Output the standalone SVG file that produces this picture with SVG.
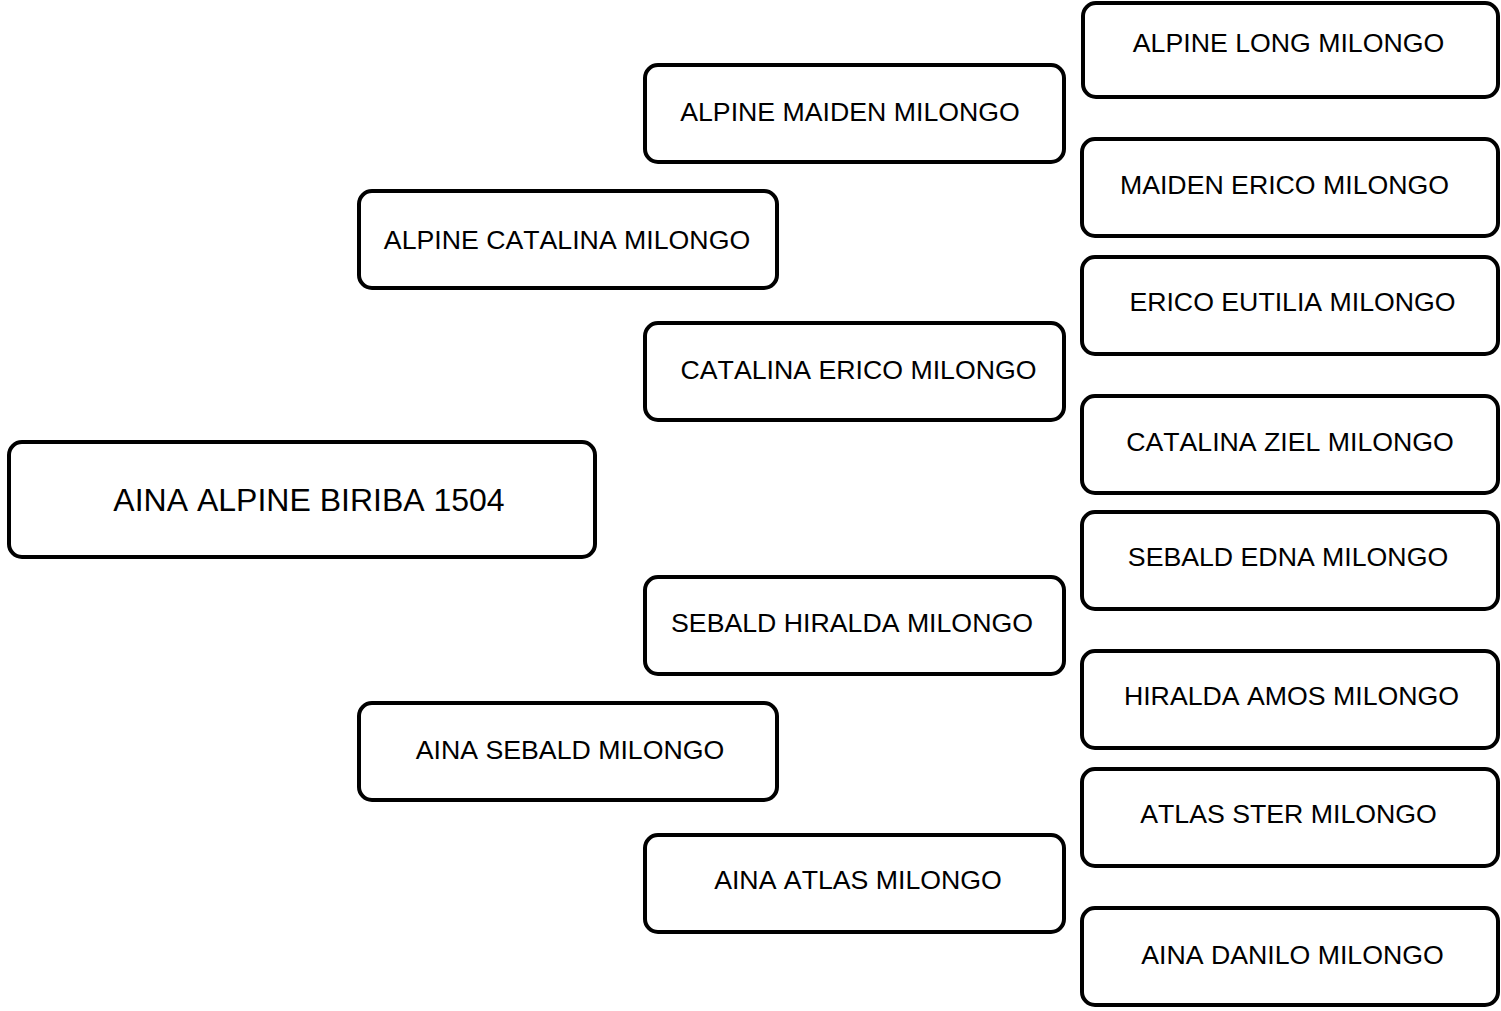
<svg xmlns="http://www.w3.org/2000/svg" width="1501" height="1011" viewBox="0 0 1501 1011">
<style>
.box{fill:#fff;stroke:#000;stroke-width:4}
.t{font-family:"Liberation Sans",Arial,sans-serif;font-size:26.7px;fill:#000;text-anchor:middle;font-kerning:none}
.tr{font-family:"Liberation Sans",Arial,sans-serif;font-size:32px;fill:#000;text-anchor:middle;font-kerning:none}
</style>
<rect width="1501" height="1011" fill="#fff"/>
<g id="connectors"></g>
<g id="n0"><rect class="box" x="9" y="442" width="586" height="115" rx="13"/><text class="tr" x="309" y="510.5">AINA ALPINE BIRIBA 1504</text></g>
<g id="n1"><rect class="box" x="359" y="191" width="418" height="97" rx="13"/><text class="t" x="567" y="248.5">ALPINE CATALINA MILONGO</text></g>
<g id="n2"><rect class="box" x="359" y="703" width="418" height="97" rx="13"/><text class="t" x="570" y="758.5">AINA SEBALD MILONGO</text></g>
<g id="n3"><rect class="box" x="645" y="65" width="419" height="97" rx="13"/><text class="t" x="850" y="120.5">ALPINE MAIDEN MILONGO</text></g>
<g id="n4"><rect class="box" x="645" y="323" width="419" height="97" rx="13"/><text class="t" x="858.5" y="378.5">CATALINA ERICO MILONGO</text></g>
<g id="n5"><rect class="box" x="645" y="577" width="419" height="97" rx="13"/><text class="t" x="852" y="631.5">SEBALD HIRALDA MILONGO</text></g>
<g id="n6"><rect class="box" x="645" y="835" width="419" height="97" rx="13"/><text class="t" x="858" y="888.5">AINA ATLAS MILONGO</text></g>
<g id="n7"><rect class="box" x="1083" y="3" width="415" height="94" rx="13"/><text class="t" x="1288.5" y="51.5">ALPINE LONG MILONGO</text></g>
<g id="n8"><rect class="box" x="1082" y="139" width="416" height="97" rx="13"/><text class="t" x="1284.5" y="193.5">MAIDEN ERICO MILONGO</text></g>
<g id="n9"><rect class="box" x="1082" y="257" width="416" height="97" rx="13"/><text class="t" x="1292.5" y="310.5">ERICO EUTILIA MILONGO</text></g>
<g id="n10"><rect class="box" x="1082" y="396" width="416" height="97" rx="13"/><text class="t" x="1290" y="450.5">CATALINA ZIEL MILONGO</text></g>
<g id="n11"><rect class="box" x="1082" y="512" width="416" height="97" rx="13"/><text class="t" x="1288" y="565.5">SEBALD EDNA MILONGO</text></g>
<g id="n12"><rect class="box" x="1082" y="651" width="416" height="97" rx="13"/><text class="t" x="1291.5" y="704.5">HIRALDA AMOS MILONGO</text></g>
<g id="n13"><rect class="box" x="1082" y="769" width="416" height="97" rx="13"/><text class="t" x="1288.5" y="822.5">ATLAS STER MILONGO</text></g>
<g id="n14"><rect class="box" x="1082" y="908" width="416" height="97" rx="13"/><text class="t" x="1292.5" y="963.5">AINA DANILO MILONGO</text></g>
</svg>
